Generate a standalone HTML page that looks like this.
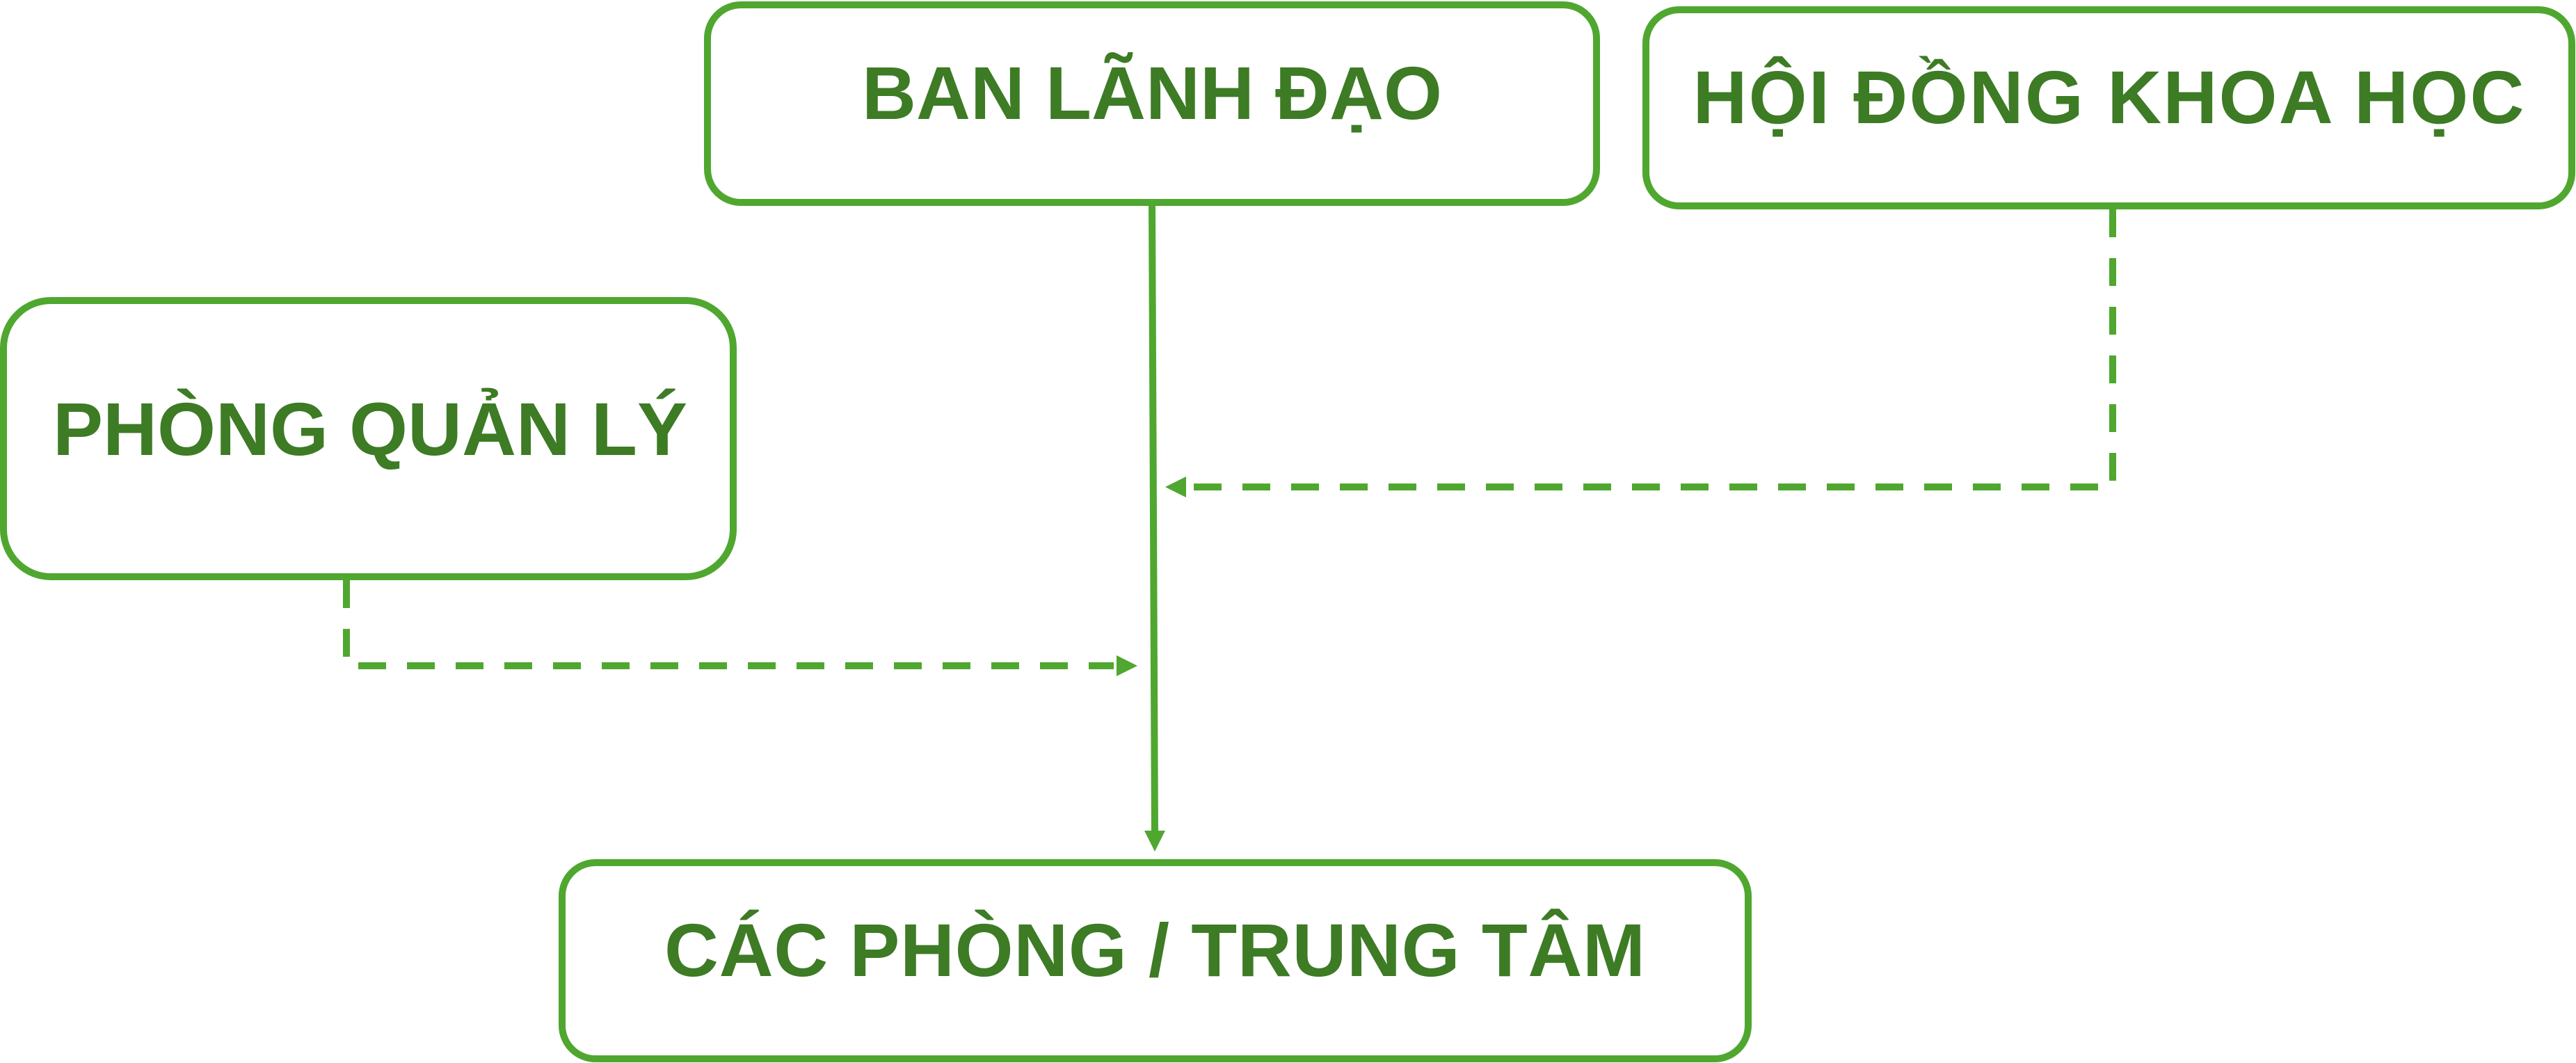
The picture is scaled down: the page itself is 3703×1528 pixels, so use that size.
<!DOCTYPE html>
<html><head><meta charset="utf-8"><style>
html,body{margin:0;padding:0;background:#fff;}
svg{display:block;}
text{font-family:"Liberation Sans",sans-serif;font-weight:bold;font-size:108px;fill:#3d7b25;text-anchor:middle;}
</style></head><body>
<svg width="3703" height="1528" viewBox="0 0 3703 1528" xmlns="http://www.w3.org/2000/svg">
<g fill="none" stroke="#4fa72f" stroke-width="10">
<rect x="1017" y="7" width="1278" height="284" rx="48" ry="48"/>
<rect x="2366" y="14" width="1331" height="282" rx="48" ry="48"/>
<rect x="5" y="432" width="1049" height="397" rx="68" ry="68"/>
<rect x="808" y="1240" width="1705" height="282" rx="48" ry="48"/>
<line x1="1656" y1="291" x2="1660" y2="1196"/>
<polyline points="3037,301 3037,700 1710,700" stroke-dasharray="40 30"/>
<polyline points="498,834 498,957 1601,957" stroke-dasharray="40 30"/>
</g>
<g fill="#4fa72f">
<polygon points="1645,1194 1675,1194 1660,1224"/>
<polygon points="1675,700 1705,685 1705,715"/>
<polygon points="1635,957 1605,942 1605,972"/>
</g>
<text x="1656" y="171">BAN LÃNH ĐẠO</text>
<text x="3031" y="177" textLength="1195" lengthAdjust="spacing">HỘI ĐỒNG KHOA HỌC</text>
<text x="532" y="654">PHÒNG QUẢN LÝ</text>
<text x="1660" y="1403" textLength="1410" lengthAdjust="spacing">CÁC PHÒNG / TRUNG TÂM</text>
</svg>
</body></html>
